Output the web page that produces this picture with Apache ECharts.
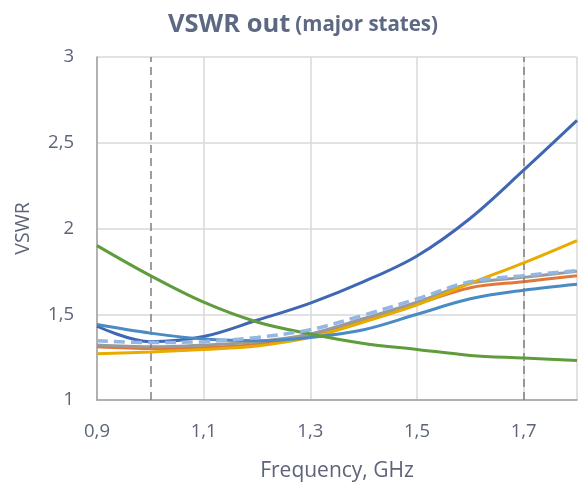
<!DOCTYPE html>
<html><head><meta charset="utf-8">
<script src="https://cdn.jsdelivr.net/npm/echarts@6/dist/echarts.min.js"></script>
<style>html,body{margin:0;padding:0;background:#fff;overflow:hidden}#c{width:585px;height:487px}</style>
</head><body><div id="c"></div>
<script>
var freq = [0.9, 1.0, 1.1, 1.2, 1.3, 1.4, 1.5, 1.6, 1.7, 1.8];
var darkBlue   = [1.43, 1.34, 1.37, 1.465, 1.565, 1.69, 1.84, 2.06, 2.34, 2.63];
var green      = [1.90, 1.725, 1.57, 1.455, 1.385, 1.33, 1.295, 1.26, 1.245, 1.23];
var mediumBlue = [1.44, 1.39, 1.355, 1.345, 1.365, 1.41, 1.50, 1.59, 1.64, 1.675];
var orange     = [1.31, 1.30, 1.305, 1.325, 1.375, 1.465, 1.56, 1.655, 1.69, 1.725];
var yellow     = [1.27, 1.28, 1.295, 1.315, 1.365, 1.455, 1.555, 1.68, 1.80, 1.93];
var gray       = [1.32, 1.31, 1.32, 1.34, 1.385, 1.475, 1.57, 1.68, 1.715, 1.75];
var dashedBlue = [1.345, 1.335, 1.34, 1.365, 1.41, 1.495, 1.59, 1.69, 1.725, 1.755];
var markerFreqs = [1.0, 1.7];

function pairs(arr){ return freq.map(function(f,i){ return [f, arr[i]]; }); }
function fmt(v){ return String(Math.round(v*10)/10).replace('.', ','); }
var txt = '#5b6479';
function line(name, arr, color, dashed, z){
  return {name:name, type:'line', data:pairs(arr), smooth:0.35, symbol:'none', z:z,
    lineStyle:{color:color, width: dashed ? 3.5 : 3, type: dashed ? [11,6] : 'solid', cap:'butt'}};
}
var series = [
  line('s1', darkBlue, '#3f67b4', false, 2),
  line('s2', orange, '#e0783a', false, 3),
  line('s3', gray, '#9a9a9a', false, 4),
  line('s4', yellow, '#e8ab00', false, 5),
  line('s5', mediumBlue, '#4a8bc4', false, 6),
  line('s6', green, '#5f9c3b', false, 7),
  line('s7', dashedBlue, '#94b6e2', true, 8)
];
series[0].markLine = {symbol:'none', silent:true, label:{show:false},
  lineStyle:{color:'#7f7f7f', width:1.5, type:[8,5]},
  data: markerFreqs.map(function(f){ return {xAxis:f}; })};

var chart = echarts.init(document.getElementById('c'), null, {renderer:'canvas'});
chart.setOption({
  animation:false,
  title:{text:'{a|VSWR out} {b|(major states)}', left:298, textAlign:'center', top:7,
    textStyle:{rich:{
      a:{fontFamily:'Open Sans', fontSize:25.5, fontWeight:'bold', color:'#5d6883'},
      b:{fontFamily:'Open Sans', fontSize:20.5, fontWeight:'bold', color:'#5d6883'}}}},
  grid:{left:97, right:8, top:57, bottom:83, containLabel:false},
  xAxis:{type:'value', min:0.9, max:1.8, interval:0.2,
    name:'Frequency, GHz', nameLocation:'middle', nameGap:61,
    nameTextStyle:{fontFamily:'Open Sans', fontSize:21, color:txt},
    axisLine:{show:true, lineStyle:{color:'#a0a0a0', width:1.5}},
    axisTick:{show:false},
    axisLabel:{margin:22, fontFamily:'Open Sans', fontSize:18.5, color:txt,
      formatter:function(v){ return v > 1.75 ? '' : fmt(v); }},
    splitLine:{show:true, lineStyle:{color:'#d9d9d9', width:1.5}}},
  yAxis:{type:'value', min:1, max:3, interval:0.5,
    name:'VSWR', nameLocation:'middle', nameGap:64, nameRotate:90,
    nameTextStyle:{fontFamily:'Open Sans', fontSize:19.5, color:txt},
    axisLine:{show:true, lineStyle:{color:'#a0a0a0', width:1.5}},
    axisTick:{show:false},
    axisLabel:{margin:23, fontFamily:'Open Sans', fontSize:18.5, color:txt,
      formatter:function(v){ return fmt(v); }},
    splitLine:{show:true, lineStyle:{color:'#d9d9d9', width:1.5}}},
  series:series
});
</script></body></html>
